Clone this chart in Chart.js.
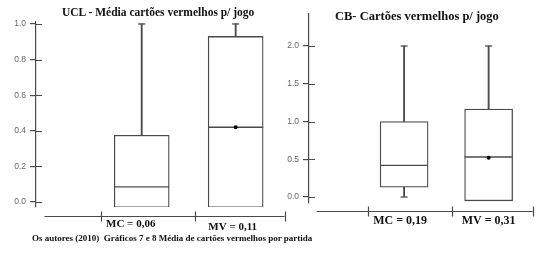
<!DOCTYPE html>
<html lang="pt">
<head>
<meta charset="UTF-8">
<title>Cartões vermelhos p/ jogo</title>
<script src="https://cdn.jsdelivr.net/npm/chart.js"></script>
<style>
  body { margin: 0; background: #fff; }
  #wrap { position: relative; width: 536px; height: 253px; overflow: hidden; }
  .panel { position: absolute; top: 0; height: 253px; }
  .txt { position: absolute; font-family: "Liberation Serif", "Times New Roman", serif; font-weight: bold; white-space: pre; color: #111; line-height: 1; }
</style>
</head>
<body>
<div id="wrap">
  <div class="panel" style="left:0;width:290px"><canvas id="ucl"></canvas></div>
  <div class="panel" style="left:280px;width:256px"><canvas id="cb"></canvas></div>
  <div class="txt" style="left:62px;top:7px;font-size:11.5px">UCL - Média cartões vermelhos p/ jogo</div>
  <div class="txt" style="left:335px;top:10px;font-size:12.5px">CB- Cartões vermelhos p/ jogo</div>
  <div class="txt" style="left:32px;top:234px;font-size:9px">Os autores (2010)  Gráficos 7 e 8 Média de cartões vermelhos por partida</div>
</div>

<script>
  // UCL - média cartões vermelhos p/ jogo
  const labelsUCL = ['MC = 0,06', 'MV = 0,11'];
  const minUCL = [null, null];
  const q1UCL = [-0.03, -0.03];
  const medUCL = [0.085, 0.42];
  const q3UCL = [0.375, 0.93];
  const maxUCL = [1.0, 1.0];
  const meanUCL = [null, 0.42];
  const ticksUCL = [0, 0.2, 0.4, 0.6, 0.8, 1.0];

  // CB - cartões vermelhos p/ jogo
  const labelsCB = ['MC = 0,19', 'MV = 0,31'];
  const minCB = [0.0, null];
  const q1CB = [0.13, -0.05];
  const medCB = [0.42, 0.53];
  const q3CB = [1.0, 1.165];
  const maxCB = [2.0, 2.0];
  const meanCB = [null, 0.52];
  const ticksCB = [0, 0.5, 1.0, 1.5, 2.0];

  // eixo x separado (posições em unidades de grupo)
  const xAxisFrom = -0.035;
  const xAxisTo = 2.52;
  const xAxisTicks = [0.57, 1.57, 2.52];

  const LINE = '#4a4a4a';

  const pts = (vals) => vals.map((v, i) => ({ x: i + 1, y: v })).filter(p => p.y !== null);
  const spans = (a, b) => a.map((v, i) => ({ x: i + 1, y: [v, b[i]] })).filter(p => p.y[0] !== null && p.y[1] !== null);

  // eixo x destacado abaixo da área, rótulos dos grupos e metade interna dos ticks do eixo y
  const axisDecor = {
    id: 'axisDecor',
    afterDraw(chart, args, o) {
      const { ctx, chartArea } = chart;
      const x = chart.scales.x, y = chart.scales.y;
      ctx.save();
      ctx.strokeStyle = LINE;
      ctx.lineWidth = 1.2;
      ctx.beginPath();
      y.ticks.forEach(t => {
        const py = Math.round(y.getPixelForValue(t.value)) + 0.5;
        ctx.moveTo(chartArea.left, py);
        ctx.lineTo(chartArea.left + 6, py);
      });
      const ay = Math.round(chartArea.bottom + o.gap) + 0.5;
      ctx.moveTo(x.getPixelForValue(xAxisFrom), ay);
      ctx.lineTo(x.getPixelForValue(xAxisTo), ay);
      xAxisTicks.forEach(v => {
        const px = Math.round(x.getPixelForValue(v)) + 0.5;
        ctx.moveTo(px, ay - 5);
        ctx.lineTo(px, ay + 5);
      });
      ctx.stroke();
      ctx.fillStyle = '#111';
      ctx.font = 'bold ' + o.fontSize + 'px "Liberation Serif", serif';
      ctx.textAlign = 'center';
      ctx.textBaseline = 'middle';
      o.labels.forEach((lab, i) => {
        ctx.fillText(lab, x.getPixelForValue(i + 1) + o.shift[i], ay + o.dy[i]);
      });
      ctx.restore();
    }
  };

  function boxChart(id, d, lay) {
    return new Chart(document.getElementById(id), {
      type: 'bar',
      data: {
        datasets: [
          { type: 'scatter', data: pts(d.mean), order: 0,
            pointRadius: 2, pointBackgroundColor: '#000', pointBorderColor: '#000', pointBorderWidth: 0 },
          { type: 'scatter', data: pts(d.med), order: 1,
            pointStyle: 'line', pointRadius: lay.boxW / 2, pointBorderColor: LINE, pointBorderWidth: 1.3 },
          { data: spans(d.q1, d.q3), order: 2, grouped: false, barThickness: lay.boxW,
            backgroundColor: '#fff', borderColor: LINE, borderWidth: 1.3, borderSkipped: false },
          { data: spans(d.q3, d.max), order: 3, grouped: false, barThickness: 1.2,
            backgroundColor: LINE, borderWidth: 0 },
          { data: spans(d.min, d.q1), order: 3, grouped: false, barThickness: 1.2,
            backgroundColor: LINE, borderWidth: 0 },
          { type: 'scatter', data: pts(d.max).concat(pts(d.min)), order: 3,
            pointStyle: 'line', pointRadius: 3.5, pointBorderColor: LINE, pointBorderWidth: 1.3 }
        ]
      },
      options: {
        responsive: true,
        maintainAspectRatio: false,
        animation: false,
        events: [],
        layout: { padding: lay.pad, autoPadding: false },
        plugins: {
          legend: { display: false },
          tooltip: { enabled: false },
          axisDecor: { labels: d.labels, gap: lay.gap, dy: lay.dy, shift: lay.shift, fontSize: lay.fontSize }
        },
        scales: {
          x: { type: 'linear', display: false, offset: false, min: -0.125, max: 2.525 },
          y: {
            min: lay.yMin, max: lay.yMax,
            afterBuildTicks: (s) => { s.ticks = d.ticks.map(v => ({ value: v })); },
            afterFit: (s) => { s.width = lay.yW; },
            grid: { drawOnChartArea: false, tickLength: 6, color: LINE, lineWidth: 1.2 },
            border: { color: LINE, width: 1.2 },
            ticks: { padding: 4, color: '#666', font: { family: 'Liberation Sans', size: 8.5 },
                     callback: (v) => Number(v).toFixed(1) }
          }
        }
      },
      plugins: [axisDecor]
    });
  }

  boxChart('ucl',
    { labels: labelsUCL, min: minUCL, q1: q1UCL, med: medUCL, q3: q3UCL, max: maxUCL, mean: meanUCL, ticks: ticksUCL },
    { pad: { left: 0, right: 5, top: 22, bottom: 46 }, yW: 36, yMin: -0.028, yMax: 1.011,
      boxW: 55, gap: 9, dy: [8, 11], shift: [-11, -3], fontSize: 11 });

  boxChart('cb',
    { labels: labelsCB, min: minCB, q1: q1CB, med: medCB, q3: q3CB, max: maxCB, mean: meanCB, ticks: ticksCB },
    { pad: { left: 0, right: 3, top: 14, bottom: 50 }, yW: 29, yMin: -0.079, yMax: 2.424,
      boxW: 48, gap: 8, dy: [9, 9], shift: [-4, 0], fontSize: 12 });
</script>
</body>
</html>
